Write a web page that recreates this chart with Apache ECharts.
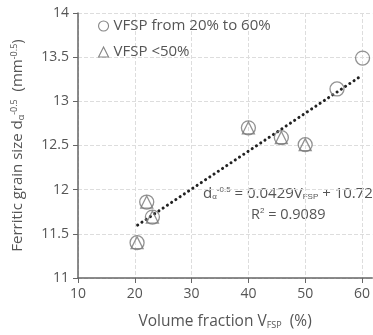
<!DOCTYPE html>
<html><head><meta charset="utf-8">
<script src="https://cdn.jsdelivr.net/npm/echarts@6/dist/echarts.min.js"></script>
<style>html,body{margin:0;padding:0;background:#fff}#c{width:373px;height:335px}</style>
</head><body><div id="c"></div>
<script>
const allX = [20.4, 22.1, 23.1, 40.0, 45.8, 50.0, 55.6, 60.1];
const allY = [11.40, 11.86, 11.69, 12.70, 12.59, 12.51, 13.14, 13.49];
const lowX = [20.4, 22.1, 23.1, 40.0, 45.8, 50.0];
const lowY = [11.40, 11.86, 11.69, 12.70, 12.59, 12.51];
const fitSlope = 0.0429, fitIntercept = 10.72;
const fitX = [20.5, 60];
const xTicks = [10, 20, 30, 40, 50, 60];
const yTicks = [11, 11.5, 12, 12.5, 13, 13.5, 14];

const font = '"Open Sans", "Liberation Sans", sans-serif';
const txt = '#555';
const chart = echarts.init(document.getElementById('c'));
chart.setOption({
  animation: false,
  textStyle: {fontFamily: font},
  grid: {left: 78, right: 0, top: 13, bottom: 57},
  legend: {
    left: 93, top: 12, orient: 'vertical', itemGap: 8, itemWidth: 10, itemHeight: 10,
    textStyle: {color: txt, fontSize: 15, fontFamily: font, lineHeight: 18},
    itemStyle: {color: 'rgba(255,255,255,0)', borderColor: '#666', borderWidth: 1.1},
    data: [{name: 'VFSP from 20% to 60%', icon: 'circle'}, {name: 'VFSP <50%', icon: 'triangle'}]
  },
  xAxis: {
    type: 'value', min: xTicks[0], max: 61.8, interval: 10,
    axisLine: {lineStyle: {color: '#666', width: 1.5}},
    axisTick: {show: true, length: 5, lineStyle: {color: '#666'}, customValues: xTicks},
    axisLabel: {color: txt, fontSize: 14, margin: 9, customValues: xTicks},
    splitLine: {show: true, lineStyle: {color: '#ddd', type: 'dashed'}},
    name: 'Volume fraction V{sub|FSP}  (%)', nameLocation: 'middle', nameGap: 36,
    nameTextStyle: {color: txt, fontSize: 15.5, rich: {sub: {fontSize: 9, verticalAlign: 'bottom', padding: [7, 0, 0, 0], color: txt}}}
  },
  yAxis: {
    type: 'value', min: yTicks[0], max: yTicks[yTicks.length - 1], interval: 0.5,
    axisLine: {show: true, lineStyle: {color: '#666', width: 1.5}},
    axisTick: {show: true, length: 5, lineStyle: {color: '#666'}},
    axisLabel: {color: txt, fontSize: 14, margin: 9, formatter: v => String(v)},
    splitLine: {show: true, lineStyle: {color: '#ddd', type: 'dashed'}},
    name: 'Ferritic grain size d{sub|α}{sup|-0.5}  (mm{sup|-0.5})', nameLocation: 'middle', nameGap: 52, nameRotate: 90,
    nameTextStyle: {color: txt, fontSize: 15, rich: {
      sub: {fontSize: 9, color: txt, verticalAlign: 'bottom', padding: [7, 0, 0, 0]},
      sup: {fontSize: 9, color: txt, verticalAlign: 'top', padding: [0, 0, 7, 0]}
    }}
  },
  graphic: [{
    type: 'text', left: 203, top: 186,
    style: {
      text: 'd{sub|α}{sup|-0.5} = 0.0429V{sub|FSP} + 10.72',
      fill: txt, font: '15px ' + font,
      rich: {
        sub: {fontSize: 8, fill: txt, verticalAlign: 'bottom', padding: [7, 0, 0, 0]},
        sup: {fontSize: 8, fill: txt, verticalAlign: 'top', padding: [0, 0, 7, 0]}
      }
    }
  }, {
    type: 'text', left: 251, top: 207,
    style: {text: 'R{sup|2} = 0.9089', fill: txt, font: '14.5px ' + font,
      rich: {sup: {fontSize: 8, fill: txt, verticalAlign: 'top', padding: [0, 0, 6, 0]}}}
  }],
  series: [{
    name: 'fit', type: 'line', showSymbol: false, silent: true,
    data: fitX.map(x => [x, fitSlope * x + fitIntercept]),
    lineStyle: {color: '#222', width: 3, type: [0.1, 5], cap: 'round'}, z: 1
  }, {
    name: 'VFSP from 20% to 60%', type: 'scatter', symbol: 'circle', symbolSize: 14,
    data: allX.map((x, i) => [x, allY[i]]),
    itemStyle: {color: 'rgba(255,255,255,0)', borderColor: '#777', borderWidth: 1.3}, z: 3
  }, {
    name: 'VFSP <50%', type: 'scatter', symbol: 'triangle', symbolSize: 12,
    data: lowX.map((x, i) => [x, lowY[i]]),
    itemStyle: {color: 'rgba(255,255,255,0)', borderColor: '#777', borderWidth: 1.3}, z: 4
  }]
});
</script></body></html>
